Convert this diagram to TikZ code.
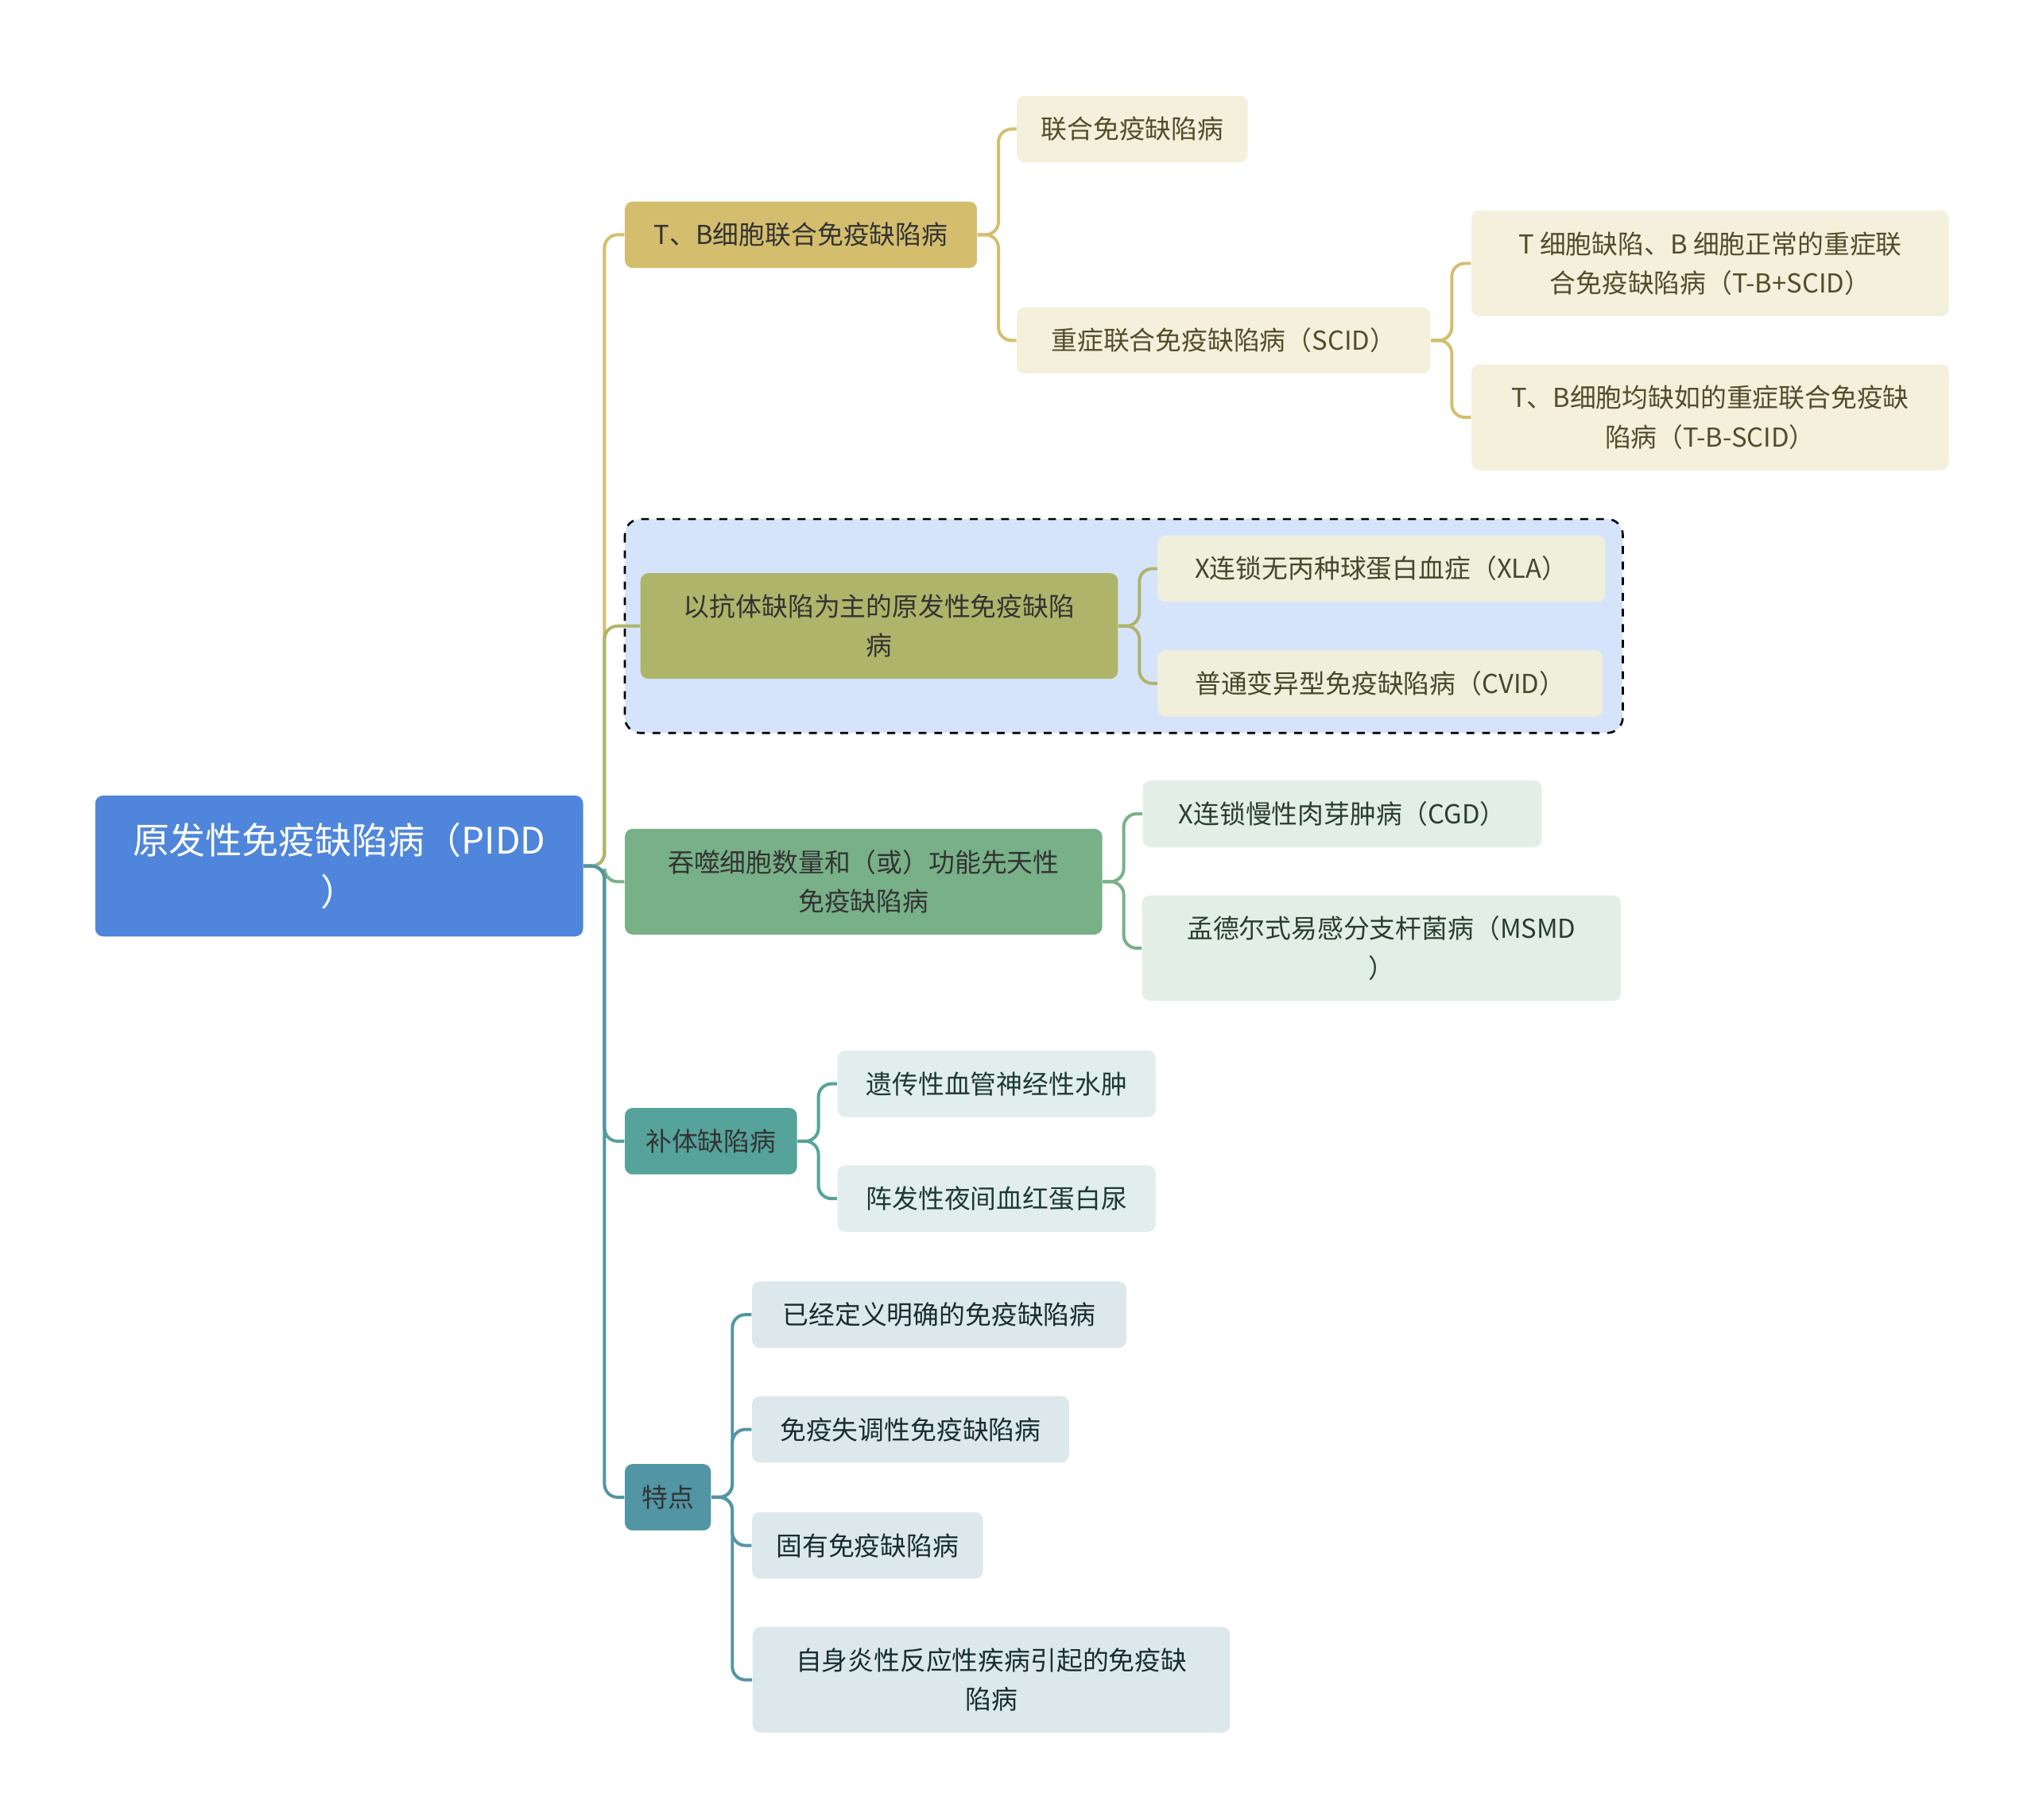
\documentclass[tikz,border=0pt]{standalone}
\usepackage{fontspec}
\setmainfont{Noto Sans CJK SC}
\usepackage{tikz}
\definecolor{rootc}{HTML}{4F86DB}
\definecolor{goldc}{HTML}{D4BE6E}
\definecolor{goldl}{HTML}{F5F0DC}
\definecolor{olivec}{HTML}{AEB46A}
\definecolor{olivel}{HTML}{EFEFDC}
\definecolor{greenc}{HTML}{78B088}
\definecolor{greenl}{HTML}{E3EFE6}
\definecolor{tealc}{HTML}{55A39A}
\definecolor{teall}{HTML}{E1EEED}
\definecolor{bluec}{HTML}{5295A5}
\definecolor{bluel}{HTML}{DDE8EC}
\definecolor{boxc}{HTML}{D6E4FB}
\tikzset{
  x=0.5pt, y=-0.5pt,
  base/.style={rectangle, rounded corners=3pt, align=center, inner sep=0pt, font=\fontsize{10}{15}\selectfont},
  branch/.style={base, fill=#1, text=black!80, minimum height=25.5pt},
  leaf/.style={base, fill=#1, minimum height=25.5pt},
  link/.style={line width=1.2pt, rounded corners=5pt, draw=#1}
}
\begin{document}
\begin{tikzpicture}
\useasboundingbox (0,0) rectangle (1560,1395);
% dashed group
\draw[dashed, line width=0.8pt, fill=boxc, rounded corners=6pt] (479,398) rectangle (1244,562);
% root
\node (pidd) [base, fill=rootc, text=white, minimum width=187pt, minimum height=54pt, font=\fontsize{14}{20}\selectfont] at (260,664) {原发性免疫缺陷病（PIDD\\）};
% branches
\node (tb) [branch=goldc, minimum width=135pt] at (614,180) {T、B细胞联合免疫缺陷病};
\node (anti) [branch=olivec, minimum width=183pt, minimum height=40.5pt] at (674,480) {以抗体缺陷为主的原发性免疫缺陷\\病};
\node (phag) [branch=greenc, minimum width=183pt, minimum height=40.5pt] at (662,676) {吞噬细胞数量和（或）功能先天性\\免疫缺陷病};
\node (comp) [branch=tealc, minimum width=66pt] at (545,875) {补体缺陷病};
\node (feat) [branch=bluec, minimum width=33pt] at (512,1148) {特点};
% leaves
\node (cid) [leaf=goldl, text=goldc!40!black, minimum width=88.5pt] at (868,99) {联合免疫缺陷病};
\node (scid) [leaf=goldl, text=goldc!40!black, minimum width=158.5pt] at (938,261) {重症联合免疫缺陷病（SCID）};
\node (tbp) [leaf=goldl, text=goldc!40!black, minimum width=183pt, minimum height=40.5pt] at (1311,202) {T 细胞缺陷、B 细胞正常的重症联\\合免疫缺陷病（T-B+SCID）};
\node (tbm) [leaf=goldl, text=goldc!40!black, minimum width=183pt, minimum height=40.5pt] at (1311,320) {T、B细胞均缺如的重症联合免疫缺\\陷病（T-B-SCID）};
\node (xla) [leaf=olivel, text=olivec!40!black, minimum width=171.5pt] at (1059,436) {X连锁无丙种球蛋白血症（XLA）};
\node (cvid) [leaf=olivel, text=olivec!40!black, minimum width=170.5pt] at (1058,524) {普通变异型免疫缺陷病（CVID）};
\node (cgd) [leaf=greenl, text=greenc!35!black, minimum width=153pt] at (1029,624) {X连锁慢性肉芽肿病（CGD）};
\node (msmd) [leaf=greenl, text=greenc!35!black, minimum width=183.5pt, minimum height=40.5pt] at (1059,727) {孟德尔式易感分支杆菌病（MSMD\\）};
\node (hae) [leaf=teall, text=tealc!35!black, minimum width=122pt] at (764,831) {遗传性血管神经性水肿};
\node (pnh) [leaf=teall, text=tealc!35!black, minimum width=122pt] at (764,919) {阵发性夜间血红蛋白尿};
\node (def) [leaf=bluel, text=bluec!30!black, minimum width=143.5pt] at (720,1008) {已经定义明确的免疫缺陷病};
\node (dys) [leaf=bluel, text=bluec!30!black, minimum width=121.5pt] at (698,1096) {免疫失调性免疫缺陷病};
\node (inn) [leaf=bluel, text=bluec!30!black, minimum width=88.5pt] at (665,1185) {固有免疫缺陷病};
\node (auto) [leaf=bluel, text=bluec!30!black, minimum width=183pt, minimum height=40.5pt] at (760,1288) {自身炎性反应性疾病引起的免疫缺\\陷病};
% root links
\draw[link=goldc] (pidd.east) -- ++(16,0) |- (tb.west);
\draw[link=olivec] (pidd.east) -- ++(16,0) |- (anti.west);
\draw[link=greenc] (pidd.east) -- ++(16,0) |- (phag.west);
\draw[link=tealc] (pidd.east) -- ++(16,0) |- (comp.west);
\draw[link=bluec] (pidd.east) -- ++(16,0) |- (feat.west);
% child links
\foreach \p/\c/\col in {tb/cid/goldc, tb/scid/goldc, scid/tbp/goldc, scid/tbm/goldc, anti/xla/olivec, anti/cvid/olivec, phag/cgd/greenc, phag/msmd/greenc, comp/hae/tealc, comp/pnh/tealc, feat/def/bluec, feat/dys/bluec, feat/inn/bluec, feat/auto/bluec}
  \draw[link=\col] (\p.east) -- ++(16,0) |- (\c.west);
\end{tikzpicture}
\end{document}
